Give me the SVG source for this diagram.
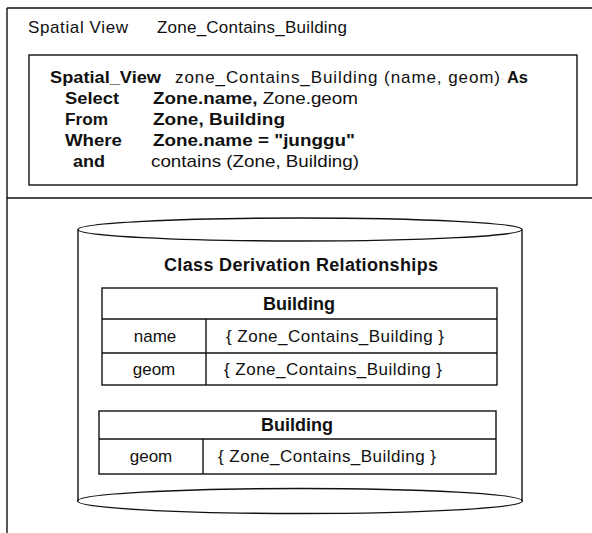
<svg xmlns="http://www.w3.org/2000/svg" width="592" height="533" viewBox="0 0 592 533">
<style>
.ln{fill:none;stroke:#111;stroke-width:1.4}
.t{font-family:"Liberation Sans",Arial,sans-serif;font-size:17px;fill:#111}
.b{font-weight:bold}
.h{font-family:"Liberation Sans",Arial,sans-serif;font-size:18px;font-weight:bold;fill:#111}
.m{text-anchor:middle}
</style>
<rect width="592" height="533" fill="#fff"/>
<g id="frame">
<path class="ln" d="M7,8 H592 M7,8 V533 M7,198 H592"/>
<text class="t" x="28" y="33" textLength="100">Spatial View</text>
<text class="t" x="157" y="33" textLength="190">Zone_Contains_Building</text>
</g>
<g id="query">
<rect class="ln" x="29" y="55" width="548" height="130"/>
<text class="t b" x="50" y="83" textLength="111" lengthAdjust="spacingAndGlyphs">Spatial_View</text>
<text class="t" x="175" y="83" textLength="325">zone_Contains_Building (name, geom)</text>
<text class="t b" x="507" y="83" textLength="21" lengthAdjust="spacingAndGlyphs">As</text>
<text class="t b" x="65" y="104" textLength="54" lengthAdjust="spacingAndGlyphs">Select</text>
<text class="t" x="153" y="104" textLength="205" lengthAdjust="spacingAndGlyphs"><tspan class="b">Zone.name,</tspan> Zone.geom</text>
<text class="t b" x="65" y="125" textLength="43" lengthAdjust="spacingAndGlyphs">From</text>
<text class="t b" x="153" y="125" textLength="132" lengthAdjust="spacingAndGlyphs">Zone, Building</text>
<text class="t b" x="65" y="146" textLength="57" lengthAdjust="spacingAndGlyphs">Where</text>
<text class="t b" x="153" y="146" textLength="202" lengthAdjust="spacingAndGlyphs">Zone.name = "junggu"</text>
<text class="t b" x="73" y="167" textLength="32" lengthAdjust="spacingAndGlyphs">and</text>
<text class="t" x="151" y="167" textLength="208" lengthAdjust="spacingAndGlyphs">contains (Zone, Building)</text>
</g>
<g id="cylinder">
<ellipse class="ln" cx="300" cy="229.5" rx="222" ry="11.5"/>
<ellipse class="ln" cx="300" cy="501" rx="222.5" ry="12.5"/>
<path class="ln" d="M78,229.5 V501 M522,229.5 V501"/>
<text class="h" x="164" y="271" textLength="274">Class Derivation Relationships</text>
</g>
<g id="table1">
<rect class="ln" x="102" y="288" width="395" height="97"/>
<path class="ln" d="M102,319 H497 M102,353 H497 M206,319 V385"/>
<text class="h m" x="299" y="310">Building</text>
<text class="t m" x="155" y="342">name</text>
<text class="t" x="226" y="342" textLength="218">{ Zone_Contains_Building }</text>
<text class="t m" x="154" y="375">geom</text>
<text class="t" x="224" y="375" textLength="218">{ Zone_Contains_Building }</text>
</g>
<g id="table2">
<rect class="ln" x="99" y="411" width="397" height="63"/>
<path class="ln" d="M99,439 H496 M203,439 V474"/>
<text class="h m" x="297" y="431">Building</text>
<text class="t m" x="151" y="462">geom</text>
<text class="t" x="218" y="462" textLength="218">{ Zone_Contains_Building }</text>
</g>
</svg>
